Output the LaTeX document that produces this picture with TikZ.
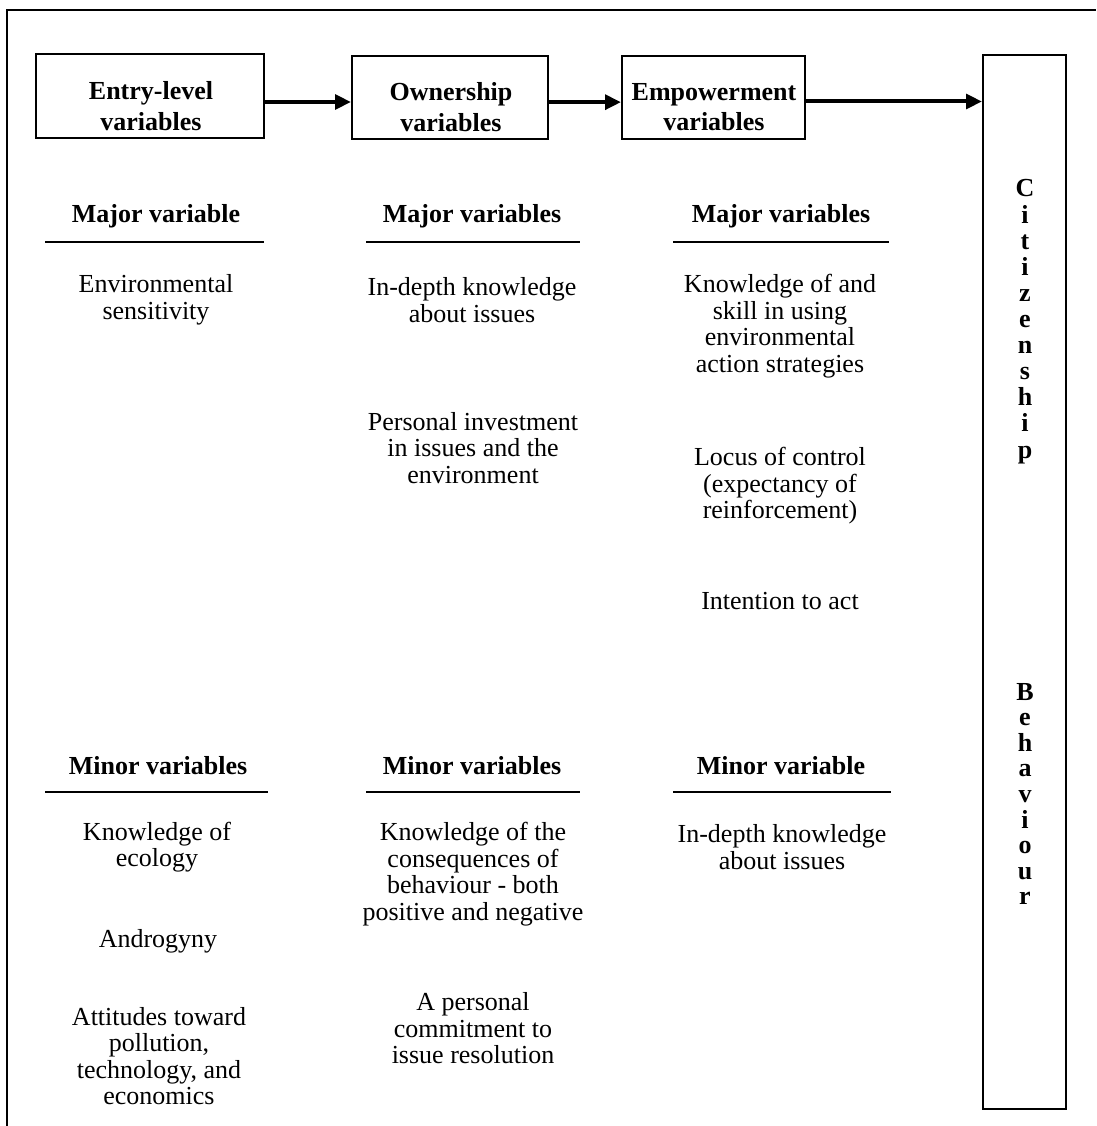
\documentclass[tikz,border=0pt]{standalone}
\usepackage{fontspec}
\setmainfont{Liberation Serif}
\usetikzlibrary{arrows.meta}
\begin{document}
\begin{tikzpicture}[x=0.75pt,y=-0.75pt,
  txt/.style={align=center,inner sep=0pt,font=\fontsize{19.5}{19.9}\selectfont},
  head/.style={align=center,inner sep=0pt,font=\fontsize{19.5}{19.9}\selectfont\bfseries},
  stagebox/.style={draw,line width=1.5pt,inner sep=0pt},
  boxtext/.style={align=center,inner sep=0pt,font=\fontsize{19.5}{23}\selectfont\bfseries},
  arr/.style={line width=3pt,-{Triangle[length=12pt,width=11pt]}},
  rule/.style={line width=1.2pt},
  frame/.style={line width=1.5pt}]
\useasboundingbox (0,0) rectangle (1096,1126);
% outer frame (only top and left edges visible)
\coordinate (fbl) at (7,1126);
\coordinate (ftl) at (7,10);
\coordinate (ftr) at (1096,10);
\draw[frame] (fbl) -- (ftl) -- (ftr);
% stage boxes
\node[stagebox,minimum width=171pt,minimum height=63pt] (b1) at (150,96) {};
\node[stagebox,minimum width=147pt,minimum height=62.25pt] (b2) at (450,97.5) {};
\node[stagebox,minimum width=137.25pt,minimum height=62.25pt] (b3) at (713.5,97.5) {};
\node[boxtext] (b1t) at (151,106) {Entry-level\\variables};
\node[boxtext] (b2t) at (451,107) {Ownership\\variables};
\node[boxtext] (b3t) at (714,107) {Empowerment\\variables};
\node[draw,line width=1.5pt,inner sep=0pt,minimum width=62.25pt,minimum height=790.5pt] (cb) at (1024.5,582) {};
% arrows
\draw[arr] ([yshift=-4.5pt]b1.east) -- ([yshift=-4.5pt]b1.east -| b2.west);
\draw[arr] ([yshift=-3.5pt]b2.east) -- ([yshift=-3.5pt]b2.east -| b3.west);
\draw[arr] ([yshift=-3pt]b3.east) -- ([yshift=-3pt]b3.east -| cb.west);
% vertical label
\foreach \l [count=\k] in {C,i,t,i,z,e,n,s,h,i,p}
  \node[head,anchor=base] (cz\k) at (1025,{197+26.1*(\k-1)}) {\l};
\foreach \l [count=\k] in {B,e,h,a,v,i,o,u,r}
  \node[head,anchor=base] (bh\k) at (1025,{700+25.6*(\k-1)}) {\l};
% column 1
\node[head] (m1) at (156,216) {Major variable};
\coordinate (m1l) at (45,242); \coordinate (m1r) at (264,242);
\draw[rule] (m1l) -- (m1r);
\node[txt] (e1) at (156,300) {Environmental\\sensitivity};
\node[head] (n1) at (158,766) {Minor variables};
\coordinate (n1l) at (45,792); \coordinate (n1r) at (268,792);
\draw[rule] (n1l) -- (n1r);
\node[txt] (k1) at (157,847) {Knowledge of\\ecology};
\node[txt] (a1) at (158,941) {Androgyny};
\node[txt] (t1) at (159,1056) {Attitudes toward\\pollution,\\technology, and\\economics};
% column 2
\node[head] (m2) at (472,216) {Major variables};
\coordinate (m2l) at (366,242); \coordinate (m2r) at (580,242);
\draw[rule] (m2l) -- (m2r);
\node[txt] (o1) at (472,300) {In-depth knowledge\\about issues};
\node[txt] (o2) at (473,448) {Personal investment\\in issues and the\\environment};
\node[head] (n2) at (472,766) {Minor variables};
\coordinate (n2l) at (366,792); \coordinate (n2r) at (580,792);
\draw[rule] (n2l) -- (n2r);
\node[txt] (o3) at (473,874) {Knowledge of the\\consequences of\\behaviour - both\\positive and negative};
\node[txt] (o4) at (473,1028.5) {A personal\\commitment to\\issue resolution};
% column 3
\node[head] (m3) at (781,216) {Major variables};
\coordinate (m3l) at (673,242); \coordinate (m3r) at (889,242);
\draw[rule] (m3l) -- (m3r);
\node[txt] (p1) at (780,326) {Knowledge of and\\skill in using\\environmental\\action strategies};
\node[txt] (p2) at (780,486) {Locus of control\\(expectancy of\\reinforcement)};
\node[txt] (p3) at (780,601) {Intention to act};
\node[head] (n3) at (781,766) {Minor variable};
\coordinate (n3l) at (673,792); \coordinate (n3r) at (891,792);
\draw[rule] (n3l) -- (n3r);
\node[txt] (p4) at (782,847) {In-depth knowledge\\about issues};
\end{tikzpicture}
\end{document}
